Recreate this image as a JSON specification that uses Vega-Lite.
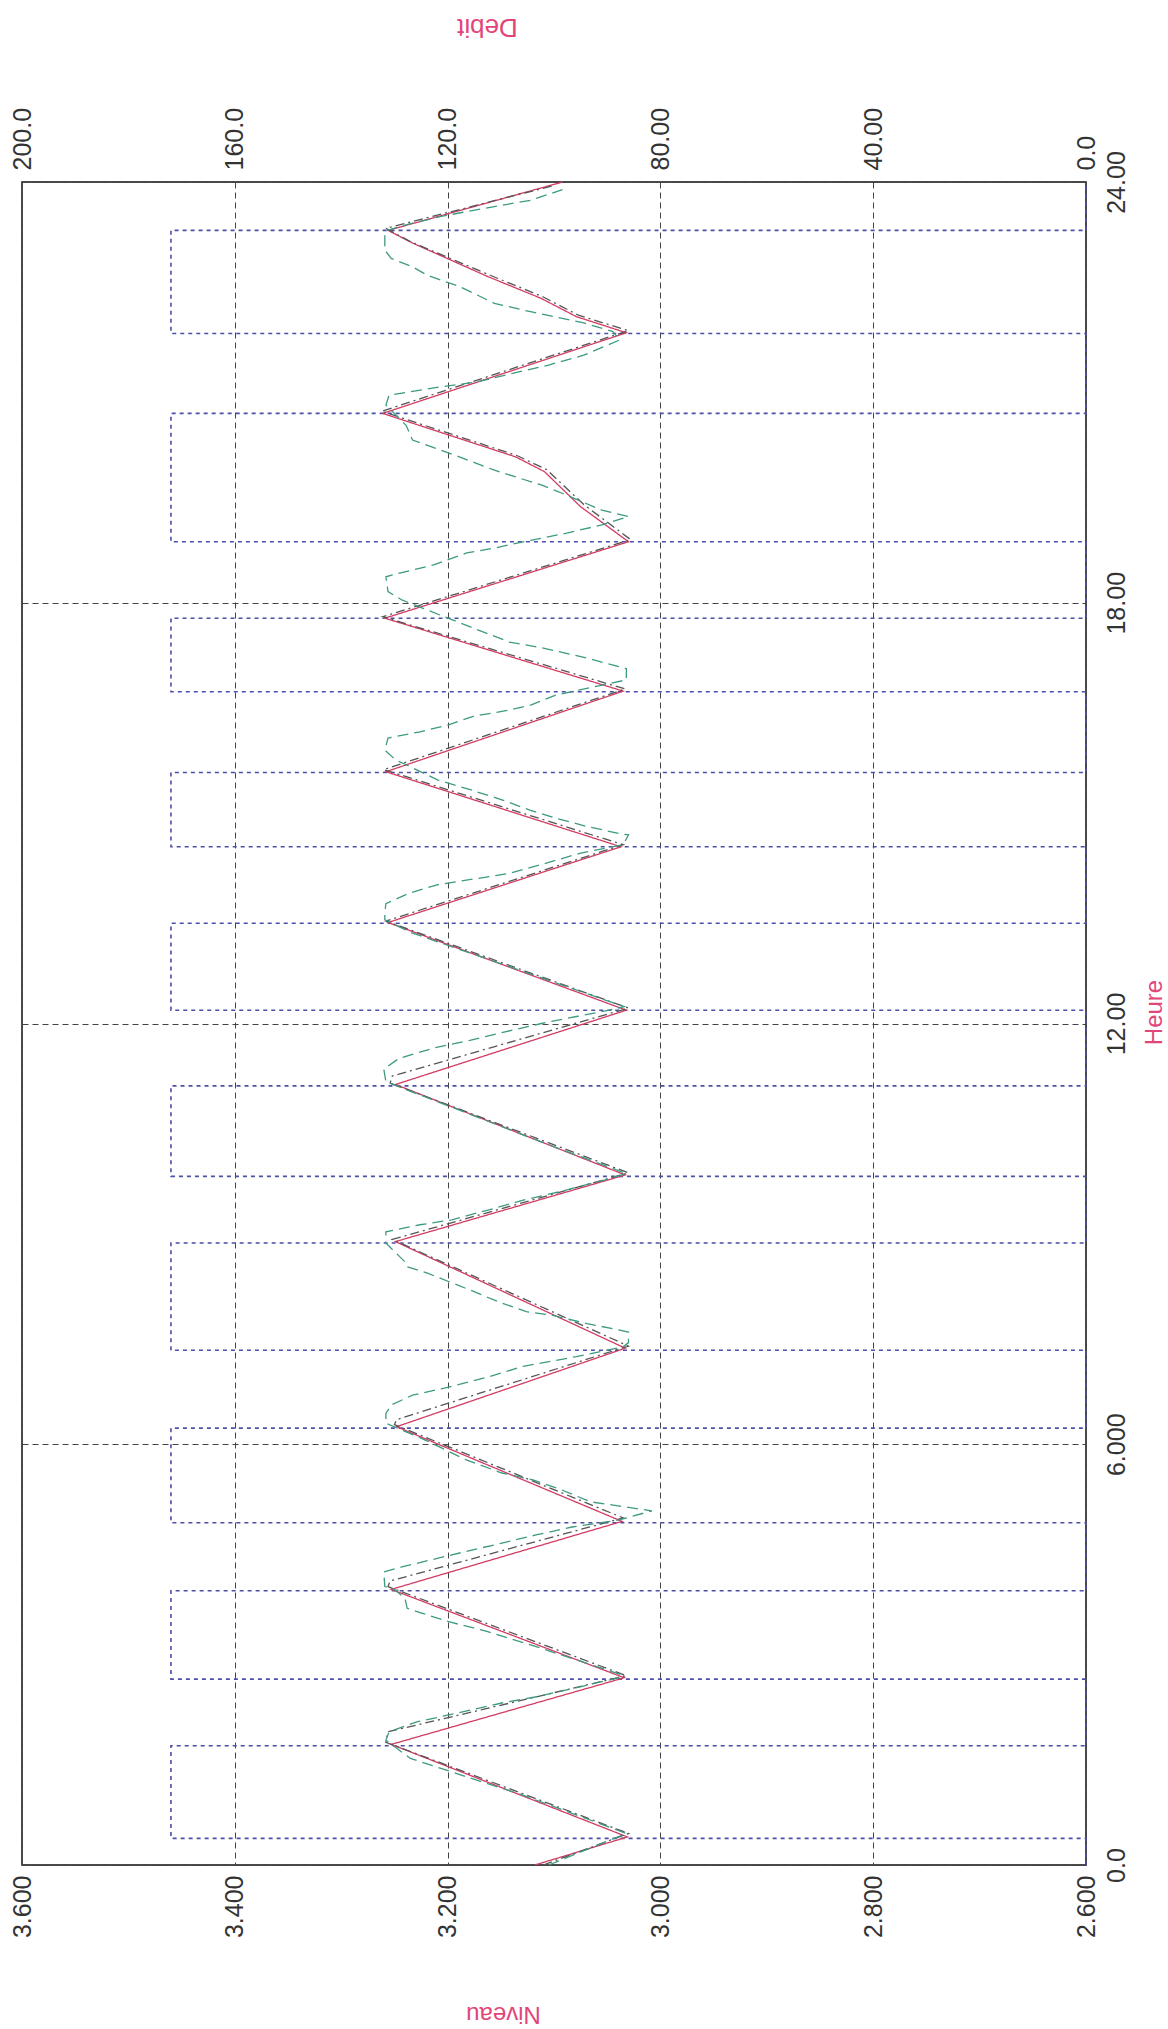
{
  "$schema": "https://vega.github.io/schema/vega-lite/v6.json",
  "autosize": {"type": "none"},
  "padding": {"left": 22, "top": 182, "right": 82, "bottom": 164},
  "width": 1064,
  "height": 1683,
  "background": "white",
  "datasets": {
    "debit": [
      {"t": 0, "Debit": 0}, {"t": 0.38, "Debit": 172}, {"t": 1.70, "Debit": 0},
      {"t": 2.65, "Debit": 172}, {"t": 3.91, "Debit": 0},
      {"t": 4.88, "Debit": 172}, {"t": 6.23, "Debit": 0},
      {"t": 7.34, "Debit": 172}, {"t": 8.87, "Debit": 0},
      {"t": 9.82, "Debit": 172}, {"t": 11.11, "Debit": 0},
      {"t": 12.19, "Debit": 172}, {"t": 13.43, "Debit": 0},
      {"t": 14.52, "Debit": 172}, {"t": 15.58, "Debit": 0},
      {"t": 16.73, "Debit": 172}, {"t": 17.78, "Debit": 0},
      {"t": 18.87, "Debit": 172}, {"t": 20.70, "Debit": 0},
      {"t": 21.84, "Debit": 172}, {"t": 23.31, "Debit": 0},
      {"t": 24, "Debit": 0}
    ],
    "niveau": [
      {"serie": "calcul", "t": 0, "Niveau": 3.118},
      {"serie": "calcul", "t": 0.40, "Niveau": 3.031},
      {"serie": "calcul", "t": 1.72, "Niveau": 3.253},
      {"serie": "calcul", "t": 2.67, "Niveau": 3.034},
      {"serie": "calcul", "t": 3.93, "Niveau": 3.253},
      {"serie": "calcul", "t": 4.90, "Niveau": 3.036},
      {"serie": "calcul", "t": 6.25, "Niveau": 3.248},
      {"serie": "calcul", "t": 7.37, "Niveau": 3.033},
      {"serie": "calcul", "t": 8.89, "Niveau": 3.249},
      {"serie": "calcul", "t": 9.84, "Niveau": 3.033},
      {"serie": "calcul", "t": 11.13, "Niveau": 3.249},
      {"serie": "calcul", "t": 12.19, "Niveau": 3.032},
      {"serie": "calcul", "t": 13.44, "Niveau": 3.256},
      {"serie": "calcul", "t": 14.52, "Niveau": 3.037},
      {"serie": "calcul", "t": 15.59, "Niveau": 3.258},
      {"serie": "calcul", "t": 16.74, "Niveau": 3.035},
      {"serie": "calcul", "t": 17.78, "Niveau": 3.259},
      {"serie": "calcul", "t": 18.87, "Niveau": 3.030},
      {"serie": "calcul", "t": 19.37, "Niveau": 3.075},
      {"serie": "calcul", "t": 19.87, "Niveau": 3.109},
      {"serie": "calcul", "t": 20.08, "Niveau": 3.136},
      {"serie": "calcul", "t": 20.70, "Niveau": 3.261},
      {"serie": "calcul", "t": 21.85, "Niveau": 3.032},
      {"serie": "calcul", "t": 22.08, "Niveau": 3.079},
      {"serie": "calcul", "t": 22.34, "Niveau": 3.112},
      {"serie": "calcul", "t": 22.65, "Niveau": 3.162},
      {"serie": "calcul", "t": 23.13, "Niveau": 3.233},
      {"serie": "calcul", "t": 23.31, "Niveau": 3.256},
      {"serie": "calcul", "t": 24.0, "Niveau": 3.092},

      {"serie": "mesure2", "t": 0, "Niveau": 3.110},
      {"serie": "mesure2", "t": 0.45, "Niveau": 3.030},
      {"serie": "mesure2", "t": 1.75, "Niveau": 3.258},
      {"serie": "mesure2", "t": 1.90, "Niveau": 3.256},
      {"serie": "mesure2", "t": 2.70, "Niveau": 3.032},
      {"serie": "mesure2", "t": 3.97, "Niveau": 3.256},
      {"serie": "mesure2", "t": 4.05, "Niveau": 3.254},
      {"serie": "mesure2", "t": 4.95, "Niveau": 3.035},
      {"serie": "mesure2", "t": 6.28, "Niveau": 3.250},
      {"serie": "mesure2", "t": 6.35, "Niveau": 3.248},
      {"serie": "mesure2", "t": 7.40, "Niveau": 3.030},
      {"serie": "mesure2", "t": 8.92, "Niveau": 3.252},
      {"serie": "mesure2", "t": 9.87, "Niveau": 3.030},
      {"serie": "mesure2", "t": 11.15, "Niveau": 3.254},
      {"serie": "mesure2", "t": 11.25, "Niveau": 3.252},
      {"serie": "mesure2", "t": 12.22, "Niveau": 3.030},
      {"serie": "mesure2", "t": 13.46, "Niveau": 3.258},
      {"serie": "mesure2", "t": 14.55, "Niveau": 3.035},
      {"serie": "mesure2", "t": 15.62, "Niveau": 3.260},
      {"serie": "mesure2", "t": 16.77, "Niveau": 3.033},
      {"serie": "mesure2", "t": 17.80, "Niveau": 3.261},
      {"serie": "mesure2", "t": 18.90, "Niveau": 3.028},
      {"serie": "mesure2", "t": 19.40, "Niveau": 3.072},
      {"serie": "mesure2", "t": 19.90, "Niveau": 3.107},
      {"serie": "mesure2", "t": 20.10, "Niveau": 3.135},
      {"serie": "mesure2", "t": 20.73, "Niveau": 3.262},
      {"serie": "mesure2", "t": 21.88, "Niveau": 3.030},
      {"serie": "mesure2", "t": 22.10, "Niveau": 3.077},
      {"serie": "mesure2", "t": 22.36, "Niveau": 3.110},
      {"serie": "mesure2", "t": 22.67, "Niveau": 3.160},
      {"serie": "mesure2", "t": 23.15, "Niveau": 3.235},
      {"serie": "mesure2", "t": 23.34, "Niveau": 3.258},
      {"serie": "mesure2", "t": 23.95, "Niveau": 3.100},

      {"serie": "mesure", "t": 0, "Niveau": 3.105},
      {"serie": "mesure", "t": 0.45, "Niveau": 3.032},
      {"serie": "mesure", "t": 1.00, "Niveau": 3.130},
      {"serie": "mesure", "t": 1.52, "Niveau": 3.235},
      {"serie": "mesure", "t": 1.78, "Niveau": 3.258},
      {"serie": "mesure", "t": 1.90, "Niveau": 3.255},
      {"serie": "mesure", "t": 2.04, "Niveau": 3.229},
      {"serie": "mesure", "t": 2.14, "Niveau": 3.199},
      {"serie": "mesure", "t": 2.31, "Niveau": 3.149},
      {"serie": "mesure", "t": 2.40, "Niveau": 3.116},
      {"serie": "mesure", "t": 2.68, "Niveau": 3.036},
      {"serie": "mesure", "t": 2.72, "Niveau": 3.038},
      {"serie": "mesure", "t": 3.11, "Niveau": 3.116},
      {"serie": "mesure", "t": 3.33, "Niveau": 3.163},
      {"serie": "mesure", "t": 3.47, "Niveau": 3.199},
      {"serie": "mesure", "t": 3.60, "Niveau": 3.226},
      {"serie": "mesure", "t": 3.66, "Niveau": 3.238},
      {"serie": "mesure", "t": 3.80, "Niveau": 3.240},
      {"serie": "mesure", "t": 3.92, "Niveau": 3.249},
      {"serie": "mesure", "t": 3.97, "Niveau": 3.259},
      {"serie": "mesure", "t": 4.18, "Niveau": 3.260},
      {"serie": "mesure", "t": 4.25, "Niveau": 3.243},
      {"serie": "mesure", "t": 4.35, "Niveau": 3.216},
      {"serie": "mesure", "t": 4.47, "Niveau": 3.183},
      {"serie": "mesure", "t": 4.59, "Niveau": 3.149},
      {"serie": "mesure", "t": 4.71, "Niveau": 3.116},
      {"serie": "mesure", "t": 4.82, "Niveau": 3.083},
      {"serie": "mesure", "t": 4.92, "Niveau": 3.039},
      {"serie": "mesure", "t": 5.05, "Niveau": 3.008},
      {"serie": "mesure", "t": 5.18, "Niveau": 3.066},
      {"serie": "mesure", "t": 5.35, "Niveau": 3.093},
      {"serie": "mesure", "t": 5.49, "Niveau": 3.119},
      {"serie": "mesure", "t": 5.59, "Niveau": 3.149},
      {"serie": "mesure", "t": 5.78, "Niveau": 3.183},
      {"serie": "mesure", "t": 6.06, "Niveau": 3.221},
      {"serie": "mesure", "t": 6.30, "Niveau": 3.258},
      {"serie": "mesure", "t": 6.44, "Niveau": 3.258},
      {"serie": "mesure", "t": 6.56, "Niveau": 3.253},
      {"serie": "mesure", "t": 6.70, "Niveau": 3.233},
      {"serie": "mesure", "t": 6.80, "Niveau": 3.203},
      {"serie": "mesure", "t": 6.96, "Niveau": 3.162},
      {"serie": "mesure", "t": 7.11, "Niveau": 3.129},
      {"serie": "mesure", "t": 7.25, "Niveau": 3.079},
      {"serie": "mesure", "t": 7.39, "Niveau": 3.035},
      {"serie": "mesure", "t": 7.45, "Niveau": 3.030},
      {"serie": "mesure", "t": 7.60, "Niveau": 3.030},
      {"serie": "mesure", "t": 7.64, "Niveau": 3.042},
      {"serie": "mesure", "t": 7.72, "Niveau": 3.069},
      {"serie": "mesure", "t": 7.84, "Niveau": 3.102},
      {"serie": "mesure", "t": 7.89, "Niveau": 3.126},
      {"serie": "mesure", "t": 8.03, "Niveau": 3.152},
      {"serie": "mesure", "t": 8.20, "Niveau": 3.179},
      {"serie": "mesure", "t": 8.44, "Niveau": 3.219},
      {"serie": "mesure", "t": 8.53, "Niveau": 3.238},
      {"serie": "mesure", "t": 8.60, "Niveau": 3.240},
      {"serie": "mesure", "t": 8.87, "Niveau": 3.258},
      {"serie": "mesure", "t": 9.03, "Niveau": 3.258},
      {"serie": "mesure", "t": 9.13, "Niveau": 3.226},
      {"serie": "mesure", "t": 9.20, "Niveau": 3.196},
      {"serie": "mesure", "t": 9.34, "Niveau": 3.162},
      {"serie": "mesure", "t": 9.48, "Niveau": 3.129},
      {"serie": "mesure", "t": 9.60, "Niveau": 3.095},
      {"serie": "mesure", "t": 9.77, "Niveau": 3.052},
      {"serie": "mesure", "t": 9.86, "Niveau": 3.032},
      {"serie": "mesure", "t": 10.30, "Niveau": 3.110},
      {"serie": "mesure", "t": 10.80, "Niveau": 3.195},
      {"serie": "mesure", "t": 11.17, "Niveau": 3.258},
      {"serie": "mesure", "t": 11.35, "Niveau": 3.260},
      {"serie": "mesure", "t": 11.50, "Niveau": 3.246},
      {"serie": "mesure", "t": 11.65, "Niveau": 3.213},
      {"serie": "mesure", "t": 11.76, "Niveau": 3.179},
      {"serie": "mesure", "t": 11.88, "Niveau": 3.146},
      {"serie": "mesure", "t": 12.00, "Niveau": 3.112},
      {"serie": "mesure", "t": 12.10, "Niveau": 3.079},
      {"serie": "mesure", "t": 12.19, "Niveau": 3.048},
      {"serie": "mesure", "t": 12.24, "Niveau": 3.034},
      {"serie": "mesure", "t": 12.80, "Niveau": 3.140},
      {"serie": "mesure", "t": 13.30, "Niveau": 3.235},
      {"serie": "mesure", "t": 13.48, "Niveau": 3.259},
      {"serie": "mesure", "t": 13.57, "Niveau": 3.259},
      {"serie": "mesure", "t": 13.71, "Niveau": 3.258},
      {"serie": "mesure", "t": 13.86, "Niveau": 3.236},
      {"serie": "mesure", "t": 13.98, "Niveau": 3.209},
      {"serie": "mesure", "t": 14.14, "Niveau": 3.142},
      {"serie": "mesure", "t": 14.28, "Niveau": 3.109},
      {"serie": "mesure", "t": 14.43, "Niveau": 3.075},
      {"serie": "mesure", "t": 14.55, "Niveau": 3.035},
      {"serie": "mesure", "t": 14.69, "Niveau": 3.030},
      {"serie": "mesure", "t": 14.71, "Niveau": 3.039},
      {"serie": "mesure", "t": 14.81, "Niveau": 3.069},
      {"serie": "mesure", "t": 14.93, "Niveau": 3.099},
      {"serie": "mesure", "t": 15.04, "Niveau": 3.122},
      {"serie": "mesure", "t": 15.19, "Niveau": 3.149},
      {"serie": "mesure", "t": 15.35, "Niveau": 3.182},
      {"serie": "mesure", "t": 15.47, "Niveau": 3.209},
      {"serie": "mesure", "t": 15.69, "Niveau": 3.239},
      {"serie": "mesure", "t": 15.76, "Niveau": 3.249},
      {"serie": "mesure", "t": 15.90, "Niveau": 3.259},
      {"serie": "mesure", "t": 16.07, "Niveau": 3.256},
      {"serie": "mesure", "t": 16.16, "Niveau": 3.226},
      {"serie": "mesure", "t": 16.26, "Niveau": 3.199},
      {"serie": "mesure", "t": 16.38, "Niveau": 3.176},
      {"serie": "mesure", "t": 16.47, "Niveau": 3.142},
      {"serie": "mesure", "t": 16.54, "Niveau": 3.122},
      {"serie": "mesure", "t": 16.68, "Niveau": 3.099},
      {"serie": "mesure", "t": 16.78, "Niveau": 3.069},
      {"serie": "mesure", "t": 16.90, "Niveau": 3.032},
      {"serie": "mesure", "t": 17.06, "Niveau": 3.032},
      {"serie": "mesure", "t": 17.09, "Niveau": 3.039},
      {"serie": "mesure", "t": 17.21, "Niveau": 3.069},
      {"serie": "mesure", "t": 17.35, "Niveau": 3.109},
      {"serie": "mesure", "t": 17.44, "Niveau": 3.142},
      {"serie": "mesure", "t": 17.64, "Niveau": 3.176},
      {"serie": "mesure", "t": 17.80, "Niveau": 3.203},
      {"serie": "mesure", "t": 17.92, "Niveau": 3.223},
      {"serie": "mesure", "t": 18.04, "Niveau": 3.243},
      {"serie": "mesure", "t": 18.16, "Niveau": 3.256},
      {"serie": "mesure", "t": 18.37, "Niveau": 3.258},
      {"serie": "mesure", "t": 18.42, "Niveau": 3.246},
      {"serie": "mesure", "t": 18.54, "Niveau": 3.213},
      {"serie": "mesure", "t": 18.71, "Niveau": 3.182},
      {"serie": "mesure", "t": 18.78, "Niveau": 3.156},
      {"serie": "mesure", "t": 18.89, "Niveau": 3.122},
      {"serie": "mesure", "t": 18.99, "Niveau": 3.089},
      {"serie": "mesure", "t": 19.11, "Niveau": 3.055},
      {"serie": "mesure", "t": 19.23, "Niveau": 3.030},
      {"serie": "mesure", "t": 19.32, "Niveau": 3.055},
      {"serie": "mesure", "t": 19.54, "Niveau": 3.089},
      {"serie": "mesure", "t": 19.68, "Niveau": 3.112},
      {"serie": "mesure", "t": 19.89, "Niveau": 3.156},
      {"serie": "mesure", "t": 20.08, "Niveau": 3.189},
      {"serie": "mesure", "t": 20.32, "Niveau": 3.233},
      {"serie": "mesure", "t": 20.53, "Niveau": 3.239},
      {"serie": "mesure", "t": 20.82, "Niveau": 3.258},
      {"serie": "mesure", "t": 20.96, "Niveau": 3.255},
      {"serie": "mesure", "t": 21.08, "Niveau": 3.206},
      {"serie": "mesure", "t": 21.15, "Niveau": 3.172},
      {"serie": "mesure", "t": 21.27, "Niveau": 3.139},
      {"serie": "mesure", "t": 21.39, "Niveau": 3.105},
      {"serie": "mesure", "t": 21.53, "Niveau": 3.072},
      {"serie": "mesure", "t": 21.75, "Niveau": 3.038},
      {"serie": "mesure", "t": 21.87, "Niveau": 3.045},
      {"serie": "mesure", "t": 21.99, "Niveau": 3.072},
      {"serie": "mesure", "t": 22.15, "Niveau": 3.122},
      {"serie": "mesure", "t": 22.27, "Niveau": 3.156},
      {"serie": "mesure", "t": 22.51, "Niveau": 3.189},
      {"serie": "mesure", "t": 22.67, "Niveau": 3.219},
      {"serie": "mesure", "t": 22.79, "Niveau": 3.233},
      {"serie": "mesure", "t": 22.91, "Niveau": 3.253},
      {"serie": "mesure", "t": 23.03, "Niveau": 3.259},
      {"serie": "mesure", "t": 23.30, "Niveau": 3.259},
      {"serie": "mesure", "t": 23.39, "Niveau": 3.239},
      {"serie": "mesure", "t": 23.51, "Niveau": 3.206},
      {"serie": "mesure", "t": 23.65, "Niveau": 3.156},
      {"serie": "mesure", "t": 23.74, "Niveau": 3.122},
      {"serie": "mesure", "t": 23.89, "Niveau": 3.092}
    ]
  },
  "config": {
    "view": {"stroke": "#111111", "strokeWidth": 1.5},
    "axis": {
      "labelFont": "Liberation Sans",
      "labelFontSize": 25,
      "labelColor": "#333333",
      "titleFont": "Liberation Sans",
      "titleFontSize": 24,
      "titleFontWeight": "normal",
      "titleColor": "#e2457a",
      "domain": false,
      "ticks": false,
      "tickSize": 0,
      "gridColor": "#444444",
      "gridDash": [6, 4],
      "gridWidth": 1,
      "labelFlush": false,
      "labelOverlap": false
    }
  },
  "layer": [
    {
      "data": {"name": "debit"},
      "mark": {"type": "line", "interpolate": "step-before", "stroke": "#4b4fa8", "strokeWidth": 1.6, "strokeDash": [4, 4]},
      "encoding": {
        "x": {
          "field": "Debit", "type": "quantitative",
          "scale": {"domain": [0, 200], "reverse": true, "nice": false},
          "axis": {
            "orient": "top", "grid": false,
            "values": [0, 40, 80, 120, 160, 200],
            "labelExpr": "datum.value == 0 ? '0.0' : (datum.value < 100 ? format(datum.value, '.2f') : format(datum.value, '.1f'))",
            "labelAngle": 270, "labelAlign": "left", "labelBaseline": "middle", "labelPadding": 12,
            "title": "Debit", "titleFontSize": 26, "titleAngle": 180, "titleAlign": "center", "titleBaseline": "middle",
            "titleX": 465, "titleY": -156
          }
        },
        "y": {
          "field": "t", "type": "quantitative",
          "scale": {"domain": [0, 24], "nice": false},
          "axis": {
            "orient": "right", "grid": true,
            "values": [0, 6, 12, 18, 24],
            "labelExpr": "datum.value == 0 ? '0.0' : (datum.value < 10 ? format(datum.value, '.3f') : format(datum.value, '.2f'))",
            "labelAngle": 270, "labelAlign": "center", "labelBaseline": "top", "labelPadding": 18,
            "title": "Heure", "titleAngle": 270, "titleAlign": "center", "titleBaseline": "middle",
            "titleX": 68, "titleY": 830
          }
        },
        "order": {"field": "t", "type": "quantitative"}
      }
    },
    {
      "data": {"name": "niveau"},
      "mark": {"type": "line", "strokeWidth": 1.3},
      "encoding": {
        "x": {
          "field": "Niveau", "type": "quantitative",
          "scale": {"domain": [2.6, 3.6], "reverse": true, "nice": false, "zero": false},
          "axis": {
            "orient": "bottom", "grid": true,
            "values": [2.6, 2.8, 3.0, 3.2, 3.4, 3.6],
            "format": ".3f",
            "labelAngle": 270, "labelAlign": "right", "labelBaseline": "middle", "labelPadding": 10,
            "title": "Niveau", "titleAngle": 180, "titleAlign": "center", "titleBaseline": "middle",
            "titleX": 481, "titleY": 148
          }
        },
        "y": {
          "field": "t", "type": "quantitative",
          "scale": {"domain": [0, 24], "nice": false},
          "axis": {
            "orient": "right", "grid": true,
            "values": [0, 6, 12, 18, 24],
            "labelExpr": "datum.value == 0 ? '0.0' : (datum.value < 10 ? format(datum.value, '.3f') : format(datum.value, '.2f'))",
            "labelAngle": 270, "labelAlign": "center", "labelBaseline": "top", "labelPadding": 18,
            "title": "Heure", "titleAngle": 270, "titleAlign": "center", "titleBaseline": "middle",
            "titleX": 68, "titleY": 830
          }
        },
        "color": {
          "field": "serie", "type": "nominal",
          "scale": {"domain": ["calcul", "mesure", "mesure2"], "range": ["#d23c62", "#3d9a82", "#555555"]},
          "legend": null
        },
        "strokeDash": {
          "field": "serie", "type": "nominal",
          "scale": {"domain": ["calcul", "mesure", "mesure2"], "range": [[1, 0], [11, 6], [9, 4, 2, 4]]},
          "legend": null
        },
        "order": {"field": "t", "type": "quantitative"}
      }
    }
  ],
  "resolve": {"scale": {"x": "independent"}, "axis": {"x": "independent"}}
}
